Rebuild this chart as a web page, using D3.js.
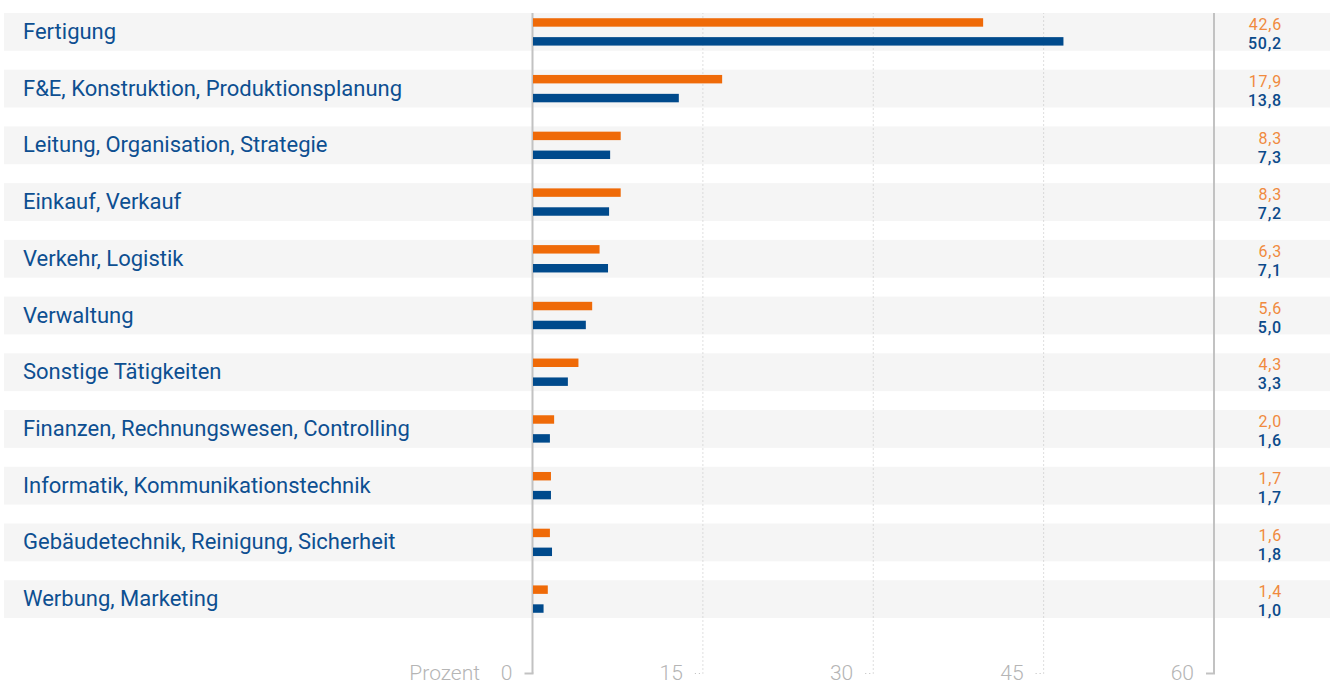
<!DOCTYPE html>
<html lang="de"><head><meta charset="utf-8">
<script src="https://cdn.jsdelivr.net/npm/d3@7"></script>
<style>
  body { margin: 0; background: #fff; }
  svg { display: block; font-family: Roboto, "Noto Sans", sans-serif; }
</style>
</head>
<body>
<svg id="chart" width="1330" height="684"></svg>
<script>
// Tätigkeitsbereiche, Anteile in Prozent
const categories = [
  "Fertigung",
  "F&E, Konstruktion, Produktionsplanung",
  "Leitung, Organisation, Strategie",
  "Einkauf, Verkauf",
  "Verkehr, Logistik",
  "Verwaltung",
  "Sonstige Tätigkeiten",
  "Finanzen, Rechnungswesen, Controlling",
  "Informatik, Kommunikationstechnik",
  "Gebäudetechnik, Reinigung, Sicherheit",
  "Werbung, Marketing"
];
const valuesOrange = [42.6, 17.9, 8.3, 8.3, 6.3, 5.6, 4.3, 2.0, 1.7, 1.6, 1.4];
const valuesBlue   = [50.2, 13.8, 7.3, 7.2, 7.1, 5.0, 3.3, 1.6, 1.7, 1.8, 1.0];
const tickValues = [0, 15, 30, 45, 60];
const axisTitle = "Prozent";

const ORANGE = "#ef6a08", ORANGE_TEXT = "#f08a3e";
const BLUE = "#004a8c", BLUE_TEXT = "#0b4a8a", LABEL = "#0d4f91";
const GRID = "#bdbdbd", AXIS_TEXT = "#b5b5b5";

const svg = d3.select("#chart");
const fmt = v => d3.format(".1f")(v).replace(".", ",");

const series = ["orange", "blue"];
const rows = categories.map((c, i) => ({
  name: c,
  values: [
    { key: "orange", value: valuesOrange[i] },
    { key: "blue", value: valuesBlue[i] }
  ]
}));

// Row bands
const y = d3.scaleBand().domain(categories).range([13, 618]).paddingInner(1 / 3).paddingOuter(0);
const ySub = d3.scaleBand().domain(series).range([0, y.bandwidth()]).paddingInner(0.553).paddingOuter(0.2765);

// Bar length scale and axis scale
const xBar = d3.scaleLinear().domain([0, 60]).range([533, 1167]);
const xAxis = d3.scaleLinear().domain([0, 60]).range([532, 1213.5]);
const axisY = 673.5;

const color = d3.scaleOrdinal().domain(series).range([ORANGE, BLUE]);
const textColor = d3.scaleOrdinal().domain(series).range([ORANGE_TEXT, BLUE_TEXT]);

// Background bands
svg.append("g").selectAll("rect").data(rows).join("rect")
  .attr("x", 4).attr("width", 1326)
  .attr("y", d => y(d.name)).attr("height", y.bandwidth())
  .attr("fill", "#f5f5f5");

// Axis with grid lines
const axis = d3.axisBottom(xAxis).tickValues(tickValues).tickSize(0).tickPadding(0);
const gAxis = svg.append("g").attr("transform", `translate(0,${axisY})`).call(axis);
gAxis.select(".domain").remove();
gAxis.selectAll(".tick").each(function (d) {
  const g = d3.select(this);
  const solid = d === 0 || d === 60;
  g.select("line").remove();
  g.append("line")
    .attr("x1", 0).attr("x2", 0).attr("y1", 0).attr("y2", 13 - axisY)
    .attr("stroke", solid ? "#c2c2c2" : GRID)
    .attr("stroke-width", solid ? 2 : 1)
    .attr("stroke-dasharray", solid ? null : "1,3");
  g.append("line")
    .attr("x1", -8).attr("x2", solid ? 1 : 0).attr("y1", 0).attr("y2", 0)
    .attr("stroke", solid ? "#c2c2c2" : GRID)
    .attr("stroke-width", solid ? 2 : 1)
    .attr("stroke-dasharray", solid ? null : "1,3");
  g.select("text")
    .attr("x", -20).attr("y", 6.5).attr("dy", null)
    .attr("text-anchor", "end")
    .attr("fill", AXIS_TEXT)
    .style("font-size", "21px")
    .style("font-weight", 300)
    .style("font-family", "Roboto, sans-serif");
});
svg.append("text")
  .attr("x", xAxis(0) - 52).attr("y", axisY + 6.5)
  .attr("text-anchor", "end")
  .attr("fill", AXIS_TEXT)
  .style("font-size", "21px").style("font-weight", 300)
  .text(axisTitle);

// Bars, category labels and value labels
const row = svg.append("g").selectAll("g").data(rows).join("g")
  .attr("transform", d => `translate(0,${y(d.name)})`);

row.append("text")
  .attr("x", 23).attr("y", 26)
  .attr("fill", LABEL)
  .style("font-size", "22px")
  .text(d => d.name);

row.selectAll("rect").data(d => d.values).join("rect")
  .attr("x", xBar(0))
  .attr("y", d => ySub(d.key))
  .attr("width", d => xBar(d.value) - xBar(0))
  .attr("height", ySub.bandwidth())
  .attr("fill", d => color(d.key));

row.selectAll("text.val").data(d => d.values).join("text")
  .attr("class", "val")
  .attr("x", 1282)
  .attr("y", d => ySub(d.key) + ySub.bandwidth() + 3.5)
  .attr("text-anchor", "end")
  .attr("fill", d => textColor(d.key))
  .style("font-size", "16px")
  .style("letter-spacing", "0.8px")
  .style("font-weight", d => d.key === "blue" ? 500 : 400)
  .text(d => fmt(d.value));
</script>
</body></html>
